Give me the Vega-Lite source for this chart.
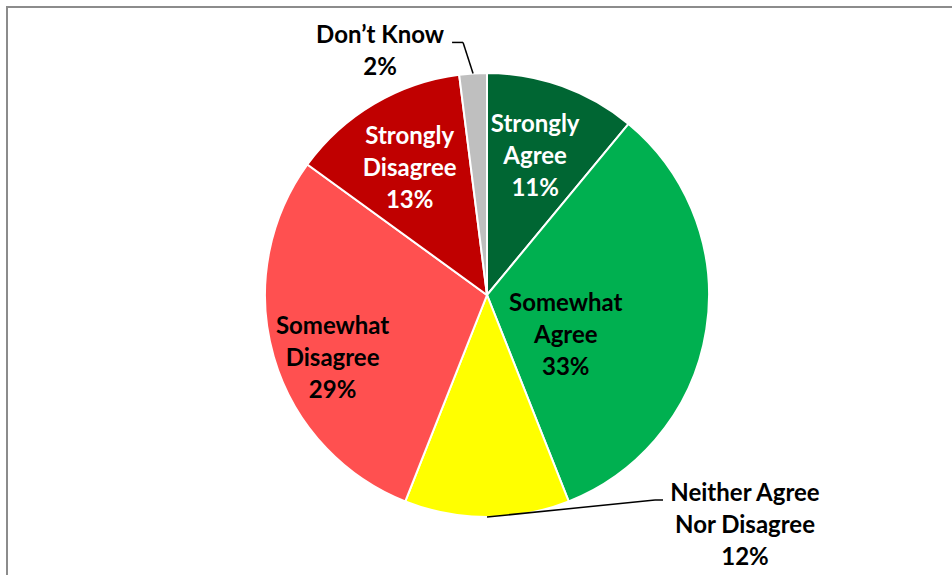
{
  "$schema": "https://vega.github.io/schema/vega-lite/v6.json",
  "autosize": {"type": "none"},
  "width": 960,
  "height": 576,
  "padding": {"left": 7, "top": 7, "right": -15, "bottom": -8},
  "background": "white",
  "config": {
    "view": {"stroke": "#8c8c8c", "strokeWidth": 2},
    "text": {"font": "Lato", "fontWeight": "bold", "fontSize": 24, "lineHeight": 32, "baseline": "middle", "align": "center", "lineBreak": "\n"}
  },
  "data": {
    "values": [
      {"category": "Strongly Agree", "label": "Strongly\nAgree", "percent": 11, "rank": 1},
      {"category": "Somewhat Agree", "label": "Somewhat\nAgree", "percent": 33, "rank": 2},
      {"category": "Neither Agree Nor Disagree", "label": "Neither Agree\nNor Disagree", "percent": 12, "rank": 3},
      {"category": "Somewhat Disagree", "label": "Somewhat\nDisagree", "percent": 29, "rank": 4},
      {"category": "Strongly Disagree", "label": "Strongly\nDisagree", "percent": 13, "rank": 5},
      {"category": "Don’t Know", "label": "Don’t Know", "percent": 2, "rank": 6}
    ]
  },
  "transform": [
    {"calculate": "datum.label + '\\n' + datum.percent + '%'", "as": "txt"}
  ],
  "layer": [
    {
      "mark": {"type": "arc", "outerRadius": 222, "stroke": "white", "strokeWidth": 2},
      "encoding": {
        "theta": {"field": "percent", "type": "quantitative", "stack": true},
        "order": {"field": "rank", "type": "quantitative"},
        "color": {
          "field": "category",
          "type": "nominal",
          "scale": {
            "domain": ["Strongly Agree", "Somewhat Agree", "Neither Agree Nor Disagree", "Somewhat Disagree", "Strongly Disagree", "Don’t Know"],
            "range": ["#006633", "#00B050", "#FFFF00", "#FF5050", "#C00000", "#BFBFBF"]
          },
          "legend": null
        }
      }
    },
    {
      "mark": {"type": "text", "radius": 148, "dx": -2, "dy": -31, "fill": "white", "lineBreak": "\n"},
      "encoding": {
        "theta": {"field": "percent", "type": "quantitative", "stack": true},
        "order": {"field": "rank", "type": "quantitative"},
        "detail": {"field": "category", "type": "nominal"},
        "text": {"condition": {"test": "datum.category == 'Strongly Agree' || datum.category == 'Strongly Disagree'", "field": "txt"}, "value": ""}
      }
    },
    {
      "mark": {"type": "text", "radius": 100, "dx": -20, "dy": -7, "fill": "black", "lineBreak": "\n"},
      "encoding": {
        "theta": {"field": "percent", "type": "quantitative", "stack": true},
        "order": {"field": "rank", "type": "quantitative"},
        "detail": {"field": "category", "type": "nominal"},
        "text": {"condition": {"test": "datum.category == 'Somewhat Agree'", "field": "txt"}, "value": ""}
      }
    },
    {
      "mark": {"type": "text", "radius": 166, "dx": 5, "dy": -14, "fill": "black", "lineBreak": "\n"},
      "encoding": {
        "theta": {"field": "percent", "type": "quantitative", "stack": true},
        "order": {"field": "rank", "type": "quantitative"},
        "detail": {"field": "category", "type": "nominal"},
        "text": {"condition": {"test": "datum.category == 'Somewhat Disagree'", "field": "txt"}, "value": ""}
      }
    },
    {
      "mark": {"type": "text", "radius": 222, "dx": 258, "dy": -23, "fill": "black", "lineBreak": "\n"},
      "encoding": {
        "theta": {"field": "percent", "type": "quantitative", "stack": true},
        "order": {"field": "rank", "type": "quantitative"},
        "detail": {"field": "category", "type": "nominal"},
        "text": {"condition": {"test": "datum.category == 'Neither Agree Nor Disagree'", "field": "txt"}, "value": ""}
      }
    },
    {
      "mark": {"type": "text", "radius": 222, "dx": -93, "dy": -37, "fill": "black", "lineBreak": "\n"},
      "encoding": {
        "theta": {"field": "percent", "type": "quantitative", "stack": true},
        "order": {"field": "rank", "type": "quantitative"},
        "detail": {"field": "category", "type": "nominal"},
        "text": {"condition": {"test": "datum.category == 'Don’t Know'", "field": "txt"}, "value": ""}
      }
    },
    {
      "transform": [
        {"stack": "percent", "groupby": [], "sort": [{"field": "rank", "order": "ascending"}], "as": ["s0", "s1"]},
        {"filter": "datum.category == 'Neither Agree Nor Disagree' || datum.category == 'Don’t Know'"},
        {"calculate": "PI * (datum.s0 + datum.s1) / 100", "as": "a"},
        {"calculate": "width / 2 + 222 * sin(datum.a)", "as": "rx"},
        {"calculate": "height / 2 - 222 * cos(datum.a)", "as": "ry"},
        {"calculate": "datum.category == 'Don’t Know' ? datum.rx - 10 : datum.rx + 168", "as": "ex"},
        {"calculate": "datum.category == 'Don’t Know' ? datum.ry - 31 : datum.ry - 17", "as": "ey"},
        {"calculate": "datum.category == 'Don’t Know' ? datum.ex - 11 : datum.ex + 8", "as": "fx"}
      ],
      "layer": [
        {
          "mark": {"type": "rule", "color": "black", "strokeWidth": 1.5},
          "encoding": {
            "x": {"field": "rx", "type": "quantitative", "scale": null},
            "y": {"field": "ry", "type": "quantitative", "scale": null},
            "x2": {"field": "ex"},
            "y2": {"field": "ey"}
          }
        },
        {
          "mark": {"type": "rule", "color": "black", "strokeWidth": 1.5},
          "encoding": {
            "x": {"field": "ex", "type": "quantitative", "scale": null},
            "y": {"field": "ey", "type": "quantitative", "scale": null},
            "x2": {"field": "fx"},
            "y2": {"field": "ey"}
          }
        }
      ]
    }
  ]
}
